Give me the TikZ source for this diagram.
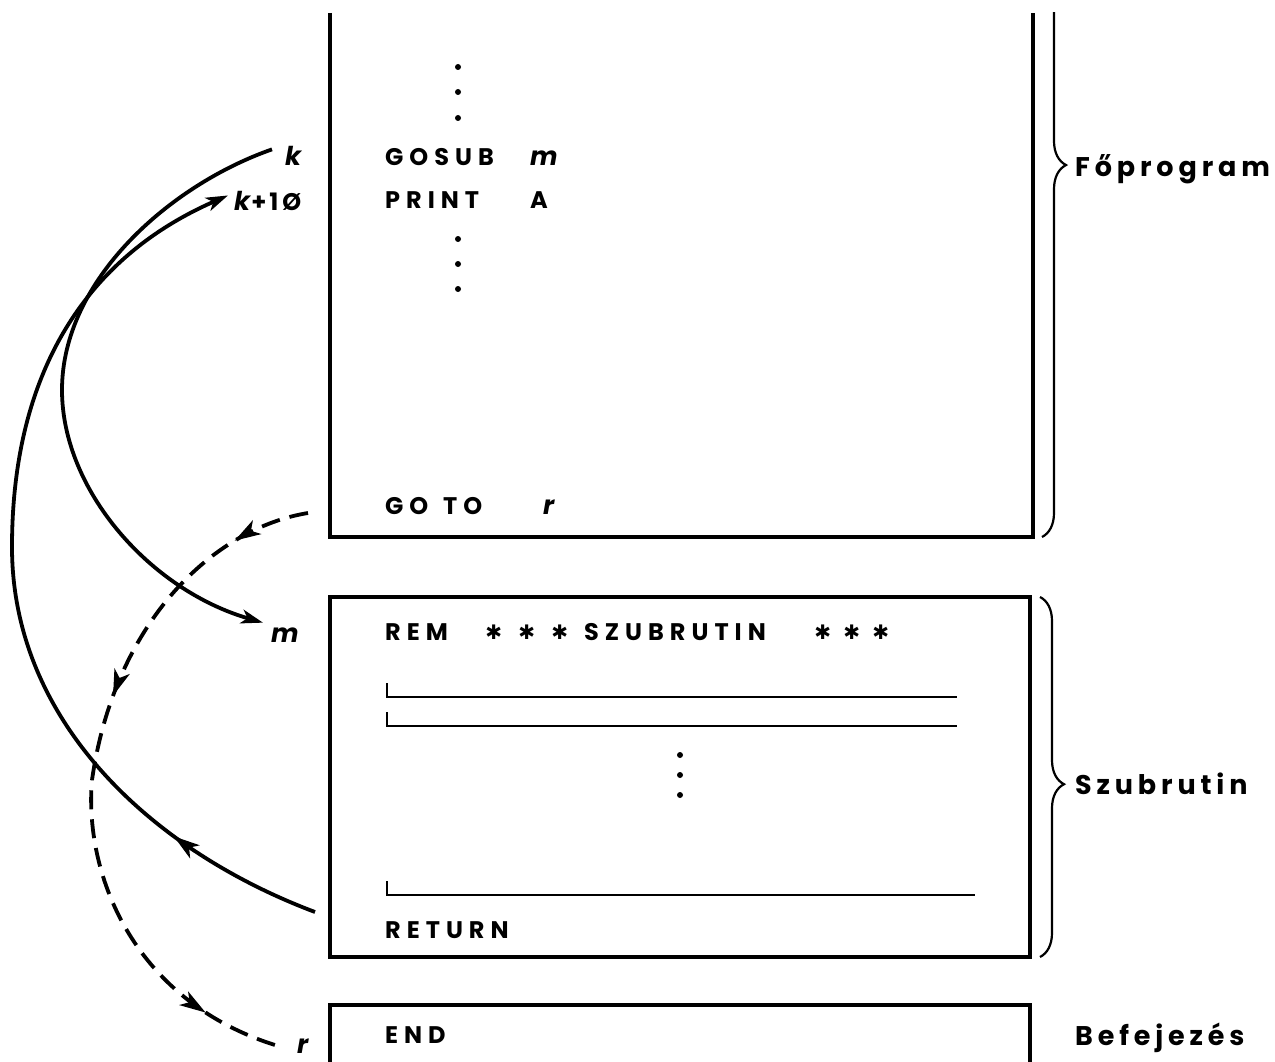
\documentclass[tikz,border=0pt]{standalone}
\usepackage{fontspec}
\setmainfont{Poppins}[LetterSpace=25]
\newfontfamily\sidefont{Poppins}[LetterSpace=18]
\newfontfamily\labfont{Poppins}[LetterSpace=18]
\newfontfamily\symfont{DejaVu Sans}
\usetikzlibrary{arrows.meta,decorations.pathreplacing,decorations.markings}
\newcommand\rstar{{\symfont\bfseries\fontsize{20}{20}\selectfont\raisebox{1pt}{✱}}}
\begin{document}
\begin{tikzpicture}[x=1pt,y=-1pt,
  >={Stealth[length=22pt,width=14pt,inset=6pt]},
  boxline/.style={line width=3.4pt},
  thinline/.style={line width=2.6pt},
  conn/.style={line width=3.8pt},
  dconn/.style={line width=3.8pt, dash pattern=on 19pt off 10pt},
  txt/.style={inner sep=0pt, anchor=base west, font=\bfseries\fontsize{24}{28}\selectfont},
  lab/.style={inner sep=0pt, anchor=base west, font=\labfont\bfseries\fontsize{26}{30}\selectfont\itshape},
  side/.style={inner sep=0pt, anchor=base west, font=\sidefont\bfseries\fontsize{27}{30}\selectfont},
  dot/.style={circle, fill, inner sep=0pt, minimum size=6pt},
  sbrace/.style={decorate, line width=2.2pt, decoration={brace, amplitude=24pt, aspect=#1}},
]
\useasboundingbox (0,0) rectangle (1275,1062);

% boxes
\draw[boxline] (330,13) -- (330,537) -- (1033,537) -- (1033,13);
\draw[boxline] (330,597) rectangle (1030,957);
\draw[boxline] (330,1075) -- (330,1005) -- (1030,1005) -- (1030,1075);

% braces
\begin{scope}
\clip (1000,13) rectangle (1120,1000);
\draw[sbrace=0.344] (1042,-30) -- (1042,537);
\end{scope}
\draw[sbrace=0.52] (1040,597) -- (1040,957);

% main program text
\node[dot] (d1) at (458,67) {};
\node[dot] (d2) at (458,92) {};
\node[dot] (d3) at (458,118) {};
\node[txt] (gosub) at (385,165) {\makebox[145pt][l]{GOSUB}{\labfont\fontsize{26}{30}\selectfont\itshape m}};
\node[txt] (print) at (385,208) {\makebox[145pt][l]{PRINT}A};
\node[dot] (d4) at (458,239) {};
\node[dot] (d5) at (458,264) {};
\node[dot] (d6) at (458,289) {};
\node[txt] (goto) at (385,514) {\makebox[58pt][l]{GO}\makebox[100pt][l]{TO}{\labfont\fontsize{26}{30}\selectfont\itshape r}};

% subroutine text
\node[txt] (rem) at (385,640) {\makebox[92pt][l]{REM}\makebox[33pt]{\rstar}\makebox[33pt]{\rstar}\makebox[33pt]{\rstar}\hspace{8pt}\makebox[224pt][l]{SZUBRUTIN}\makebox[29pt]{\rstar}\makebox[29pt]{\rstar}\makebox[29pt]{\rstar}};
\draw[thinline] (387,683) -- (387,697) -- (957,697);
\draw[thinline] (387,712) -- (387,726) -- (957,726);
\node[dot] (d7) at (680,755) {};
\node[dot] (d8) at (680,775) {};
\node[dot] (d9) at (680,795) {};
\draw[thinline] (387,881) -- (387,895) -- (975,895);
\node[txt] (ret) at (385,938) {RETURN};
\node[txt] (endt) at (385,1043) {END};

% side labels
\node[side] (fop) at (1075,176) {Főprogram};
\node[side] (szub) at (1075,794) {Szubrutin};
\node[side] (bef) at (1075,1045) {Befejezés};

% line labels
\node[lab] (k) at (285,165) {k};
\node[lab] (k10) at (234,211) {k\hspace{1pt}{\upshape\fontsize{24}{30}\selectfont +\hspace{3pt}1\hspace{4pt}Ø}};
\node[lab] (m) at (271,642) {m};
\node[lab] (r) at (297,1053) {r};

\coordinate (retpt) at (315,912);
\coordinate (gotopt) at (308,513);

% GOSUB: k -> m
\draw[conn,->] ([shift={(-13,-6)}]k.west) .. controls (170,185) and (62,280) .. (62,390)
   .. controls (62,490) and (150,590) .. ([shift={(-8,-12)}]m.west);

% RETURN -> k+10
\draw[conn,->,postaction={decorate},
  decoration={markings, mark=at position 0.17 with {\arrow{Stealth[length=26pt,width=16pt,inset=7pt]}}}]
  (retpt) .. controls (150,850) and (12,720) .. (12,547)
   .. controls (12,380) and (80,260) .. ([shift={(-6,-6)}]k10.west);

% GO TO r
\draw[dconn,postaction={decorate},
  decoration={markings,
    mark=at position 0.11 with {\arrow{Stealth[length=26pt,width=16pt,inset=7pt]}},
    mark=at position 0.39 with {\arrow{Stealth[length=26pt,width=16pt,inset=7pt]}},
    mark=at position 0.89 with {\arrow{Stealth[length=26pt,width=16pt,inset=7pt]}}}]
  (gotopt) .. controls (215,528) and (115,620) .. (92,780)
   .. controls (84,870) and (130,1000) .. ([shift={(-20,0)}]r.west);
\end{tikzpicture}
\end{document}
